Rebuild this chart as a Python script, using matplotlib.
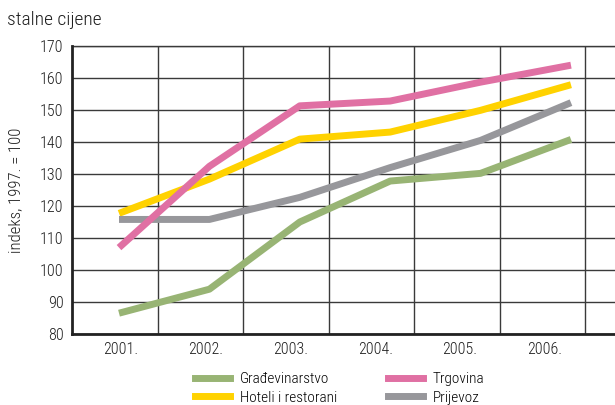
import matplotlib
matplotlib.use("Agg")
import matplotlib.pyplot as plt
from matplotlib.lines import Line2D

plt.rcParams['font.family'] = ['Roboto Condensed', 'DejaVu Sans']
plt.rcParams['font.weight'] = 'light'
plt.rcParams['axes.labelweight'] = 'light'

years = ["2001.", "2002.", "2003.", "2004.", "2005.", "2006."]
gradjevinarstvo = [86.5, 94.0, 115.0, 127.8, 130.2, 140.8]
trgovina = [107.0, 132.4, 151.3, 152.8, 158.7, 164.0]
hoteli = [117.7, 128.4, 140.9, 143.1, 149.9, 157.9]
prijevoz = [115.8, 115.8, 122.7, 132.0, 140.5, 152.3]
yticks = list(range(80, 171, 10))
legend_labels = ["Građevinarstvo", "Hoteli i restorani", "Trgovina", "Prijevoz"]

fig = plt.figure(figsize=(6.15, 4.05), dpi=100)
ax = fig.add_axes([72/615, (405-334)/405, 1 - 72/615, (334-46)/405])

x = list(range(len(years)))
lw = 5.0
c_green = "#98B474"
c_pink = "#E070A3"
c_yel = "#FFD200"
c_gray = "#97979B"
ax.plot(x, gradjevinarstvo, color=c_green, lw=lw, solid_capstyle='butt', zorder=3)
ax.plot(x, hoteli, color=c_yel, lw=lw, solid_capstyle='butt', zorder=3)
ax.plot(x, prijevoz, color=c_gray, lw=lw, solid_capstyle='butt', zorder=3)
ax.plot(x, trgovina, color=c_pink, lw=lw, solid_capstyle='butt', zorder=3)

ax.set_xlim(-0.52, 5.487)
ax.set_ylim(80, 170)
ax.set_yticks(yticks)
ax.set_yticklabels([str(v) for v in yticks], fontsize=11.5)

# category labels and separators (the original's category axis is narrower than the data spacing)
lab_pos = [0.022 + i * 0.938 for i in range(len(years))]
sep_pos = [0.431 + i * 0.945 for i in range(len(years))]
ax.set_xticks(lab_pos)
ax.set_xticklabels(years, fontsize=11.5)
for s in sep_pos:
    ax.axvline(s, color="#3a3a3a", lw=1.0, zorder=1)
ax.yaxis.grid(True, color="#3a3a3a", lw=1.0, zorder=1)
ax.set_axisbelow(True)
ax.tick_params(length=0, colors="#1e1e1e")
ax.tick_params(axis='y', pad=6)
ax.tick_params(axis='x', pad=6)

for sp in ["top", "right"]:
    ax.spines[sp].set_visible(False)
for sp in ["left", "bottom"]:
    ax.spines[sp].set_linewidth(2.0)
    ax.spines[sp].set_color("#222222")
ax.axhline(170, color="#3a3a3a", lw=1.0, clip_on=False, zorder=1)

ax.set_ylabel("indeks, 1997. = 100", fontsize=12, color="#1e1e1e", labelpad=12, fontweight='light')

fig.text(7/615, 1 - 20/405, "stalne cijene", fontsize=14, color="#1e1e1e", va="center", ha="left")

handles = [
    Line2D([], [], color=c_green, lw=lw),
    Line2D([], [], color=c_yel, lw=lw),
    Line2D([], [], color=c_pink, lw=lw),
    Line2D([], [], color=c_gray, lw=lw),
]
fig.legend(handles, legend_labels, ncol=2, loc="upper left", bbox_to_anchor=(195/615, 1 - 372/405),
           frameon=False, fontsize=11, handlelength=2.3, columnspacing=3.3,
           labelspacing=0.3, handletextpad=0.65, borderpad=0, borderaxespad=0)

fig.savefig("out.png", dpi=100)
